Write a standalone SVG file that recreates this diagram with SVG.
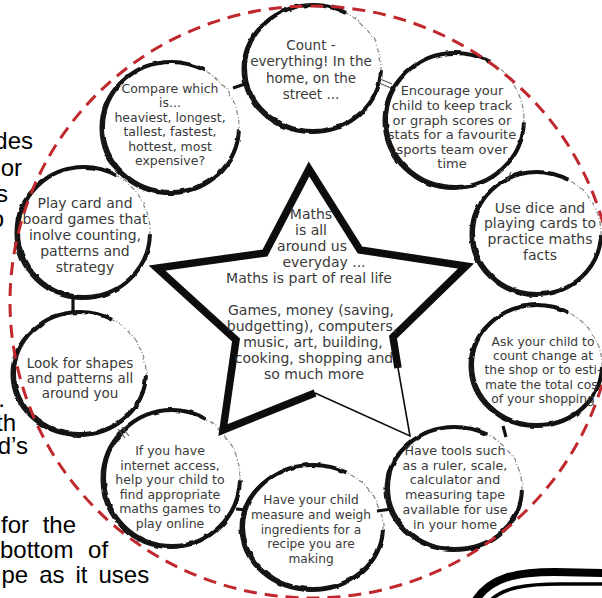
<svg xmlns="http://www.w3.org/2000/svg" width="602" height="598" viewBox="0 0 602 598">
  <defs>
    <style>
      .page { font-family: "Liberation Sans", Arial, sans-serif; font-size: 24px; fill: #000; }
      .disc { fill: #fff; }
      .faint { fill: none; stroke: #8c8c8c; stroke-width: 1.3; stroke-dasharray: 5 2 1 2; }
      .ink { fill: none; stroke: #121212; stroke-width: 4; stroke-dasharray: 298 62; stroke-dashoffset: -2; }
      .ink2 { fill: none; stroke: #121212; stroke-width: 2; stroke-dasharray: 286 74; stroke-dashoffset: -8; }
      .lbl { font-family: "DejaVu Sans", "Liberation Sans", sans-serif; fill: #3a3a3a; text-anchor: middle; }
      .bar { stroke: #111; stroke-width: 3.2; stroke-linecap: butt; fill: none; }
      .twin { stroke: #555; stroke-width: 1.1; fill: none; }
      .star-thick { fill: none; stroke: #0d0d0d; stroke-width: 7.5; stroke-linejoin: miter; stroke-miterlimit: 10; }
      .star-thin { fill: none; stroke: #0d0d0d; stroke-width: 1.6; }
      .boundary { fill: none; stroke: #c0282d; stroke-width: 3; stroke-dasharray: 13 8; }
    </style>
    <filter id="rough" x="-10%" y="-10%" width="120%" height="120%">
      <feTurbulence type="fractalNoise" baseFrequency="0.09" numOctaves="2" seed="4" result="n"/>
      <feDisplacementMap in="SourceGraphic" in2="n" scale="3" xChannelSelector="R" yChannelSelector="G"/>
    </filter>
  </defs>

  <!-- surrounding page text wrapped round the figure -->
  <g id="page-text" class="page">
    <text x="33" y="149" text-anchor="end">des</text>
    <text x="22" y="176" text-anchor="end">or</text>
    <text x="8" y="202" text-anchor="end">s</text>
    <text x="4" y="227" text-anchor="end">o</text>
    <text x="5" y="407" text-anchor="end">.</text>
    <text x="16" y="431" text-anchor="end">th</text>
    <text x="28" y="454" text-anchor="end">d’s</text>
    <text x="1" y="533" word-spacing="7">for the</text>
    <text x="0" y="558" word-spacing="8">bottom of</text>
    <text x="1.5" y="583" word-spacing="4.3">pe as it uses</text>
  </g>

  <!-- idea bubbles -->
  <g id="count" class="bubble">
    <ellipse class="disc" cx="313" cy="68" rx="68" ry="63"/>
    <g filter="url(#rough)">
      <ellipse class="faint" cx="313" cy="68" rx="68" ry="63"/>
      <ellipse class="ink" pathLength="360" cx="313" cy="68" rx="68" ry="63"/>
      <ellipse class="ink2" pathLength="360" cx="312" cy="69" rx="69.5" ry="64"/>
    </g>
    <text class="lbl" font-size="13.5"><tspan x="311" y="50">Count -</tspan><tspan x="311" y="66">everything! In the</tspan><tspan x="311" y="83">home, on the</tspan><tspan x="311" y="99">street ...</tspan></text>
  </g>

  <g id="encourage" class="bubble">
    <ellipse class="disc" cx="455" cy="120" rx="69" ry="67"/>
    <g filter="url(#rough)">
      <ellipse class="faint" cx="455" cy="120" rx="69" ry="67"/>
      <ellipse class="ink" pathLength="360" cx="455" cy="120" rx="69" ry="67"/>
      <ellipse class="ink2" pathLength="360" cx="454" cy="121" rx="70.5" ry="68"/>
    </g>
    <text class="lbl" font-size="13"><tspan x="452" y="95">Encourage your</tspan><tspan x="452" y="110">child to keep track</tspan><tspan x="452" y="125">or graph scores or</tspan><tspan x="452" y="139">stats for a favourite</tspan><tspan x="452" y="154">sports team over</tspan><tspan x="452" y="168">time</tspan></text>
  </g>

  <g id="compare" class="bubble">
    <ellipse class="disc" cx="171" cy="127" rx="68" ry="65"/>
    <g filter="url(#rough)">
      <ellipse class="faint" cx="171" cy="127" rx="68" ry="65"/>
      <ellipse class="ink" pathLength="360" cx="171" cy="127" rx="68" ry="65"/>
      <ellipse class="ink2" pathLength="360" cx="170" cy="128" rx="69.5" ry="66"/>
    </g>
    <text class="lbl" font-size="12.5"><tspan x="170" y="93">Compare which</tspan><tspan x="170" y="107">is...</tspan><tspan x="170" y="122">heaviest, longest,</tspan><tspan x="170" y="136">tallest, fastest,</tspan><tspan x="170" y="151">hottest, most</tspan><tspan x="170" y="165">expensive?</tspan></text>
  </g>

  <g id="play-cards" class="bubble">
    <ellipse class="disc" cx="84" cy="232" rx="66" ry="65"/>
    <g filter="url(#rough)">
      <ellipse class="faint" cx="84" cy="232" rx="66" ry="65"/>
      <ellipse class="ink" pathLength="360" cx="84" cy="232" rx="66" ry="65"/>
      <ellipse class="ink2" pathLength="360" cx="83" cy="233" rx="67.5" ry="66"/>
    </g>
    <text class="lbl" font-size="14"><tspan x="85" y="208">Play card and</tspan><tspan x="85" y="224">board games that</tspan><tspan x="85" y="240">inolve counting,</tspan><tspan x="85" y="256">patterns and</tspan><tspan x="85" y="272">strategy</tspan></text>
  </g>

  <g id="shapes" class="bubble">
    <ellipse class="disc" cx="80" cy="373" rx="66" ry="61"/>
    <g filter="url(#rough)">
      <ellipse class="faint" cx="80" cy="373" rx="66" ry="61"/>
      <ellipse class="ink" pathLength="360" cx="80" cy="373" rx="66" ry="61"/>
      <ellipse class="ink2" pathLength="360" cx="79" cy="374" rx="67.5" ry="62"/>
    </g>
    <text class="lbl" font-size="13.5"><tspan x="80" y="368">Look for shapes</tspan><tspan x="80" y="383">and patterns all</tspan><tspan x="80" y="398">around you</tspan></text>
  </g>

  <g id="online" class="bubble">
    <ellipse class="disc" cx="172" cy="478" rx="68" ry="68"/>
    <g filter="url(#rough)">
      <ellipse class="faint" cx="172" cy="478" rx="68" ry="68"/>
      <ellipse class="ink" pathLength="360" cx="172" cy="478" rx="68" ry="68"/>
      <ellipse class="ink2" pathLength="360" cx="171" cy="479" rx="69.5" ry="69"/>
    </g>
    <text class="lbl" font-size="12.5"><tspan x="170" y="455">If you have</tspan><tspan x="170" y="470">internet access,</tspan><tspan x="170" y="484">help your child to</tspan><tspan x="170" y="499">find appropriate</tspan><tspan x="170" y="513">maths games to</tspan><tspan x="170" y="528">play online</tspan></text>
  </g>

  <g id="recipe" class="bubble">
    <ellipse class="disc" cx="313" cy="527" rx="70" ry="62"/>
    <g filter="url(#rough)">
      <ellipse class="faint" cx="313" cy="527" rx="70" ry="62"/>
      <ellipse class="ink" pathLength="360" cx="313" cy="527" rx="70" ry="62"/>
      <ellipse class="ink2" pathLength="360" cx="312" cy="528" rx="71.5" ry="63"/>
    </g>
    <text class="lbl" font-size="12.2"><tspan x="311" y="504">Have your child</tspan><tspan x="311" y="519">measure and weigh</tspan><tspan x="311" y="534">ingredients for a</tspan><tspan x="311" y="548">recipe you are</tspan><tspan x="311" y="563">making</tspan></text>
  </g>

  <g id="tools" class="bubble">
    <ellipse class="disc" cx="455" cy="488" rx="67" ry="61"/>
    <g filter="url(#rough)">
      <ellipse class="faint" cx="455" cy="488" rx="67" ry="61"/>
      <ellipse class="ink" pathLength="360" cx="455" cy="488" rx="67" ry="61"/>
      <ellipse class="ink2" pathLength="360" cx="454" cy="489" rx="68.5" ry="62"/>
    </g>
    <text class="lbl" font-size="12.7"><tspan x="455" y="455">Have tools such</tspan><tspan x="455" y="470">as a ruler, scale,</tspan><tspan x="455" y="484">calculator and</tspan><tspan x="455" y="499">measuring tape</tspan><tspan x="455" y="514">available for use</tspan><tspan x="455" y="529">in your home</tspan></text>
  </g>

  <g id="change" class="bubble">
    <ellipse class="disc" cx="537" cy="365" rx="65" ry="60"/>
    <g filter="url(#rough)">
      <ellipse class="faint" cx="537" cy="365" rx="65" ry="60"/>
      <ellipse class="ink" pathLength="360" cx="537" cy="365" rx="65" ry="60"/>
      <ellipse class="ink2" pathLength="360" cx="536" cy="366" rx="66.5" ry="61"/>
    </g>
    <text class="lbl" font-size="12.3"><tspan x="543" y="346">Ask your child to</tspan><tspan x="543" y="360">count change at</tspan><tspan x="543" y="374">the shop or to esti-</tspan><tspan x="485" y="389" text-anchor="start">mate the total cos</tspan><tspan x="543" y="403">of your shopping</tspan></text>
  </g>

  <g id="dice" class="bubble">
    <ellipse class="disc" cx="537" cy="233" rx="64" ry="61"/>
    <g filter="url(#rough)">
      <ellipse class="faint" cx="537" cy="233" rx="64" ry="61"/>
      <ellipse class="ink" pathLength="360" cx="537" cy="233" rx="64" ry="61"/>
      <ellipse class="ink2" pathLength="360" cx="536" cy="234" rx="65.5" ry="62"/>
    </g>
    <text class="lbl" font-size="14"><tspan x="540" y="213">Use dice and</tspan><tspan x="540" y="228">playing cards to</tspan><tspan x="540" y="244">practice maths</tspan><tspan x="540" y="260">facts</tspan></text>
  </g>

  <!-- central star -->
  <g id="star">
    <polygon points="309,169 360,250 466,266 393,337 410,436 315,393 223,430 236,340 157,268 265,253" fill="#fff"/>
    <path class="star-thick" d="M398,368 L393,337 L466,266 L360,250 L309,169 L265,253 L157,268 L236,340 L223,430 L315,393"/>
    <path class="star-thin" d="M315,393 L410,436 L398,368"/>
    <text class="lbl" font-size="14"><tspan x="311" y="219">Maths</tspan><tspan x="311" y="235">is all</tspan><tspan x="312" y="251">around us</tspan><tspan x="324" y="267">everyday ...</tspan><tspan x="309" y="283">Maths is part of real life</tspan><tspan x="311" y="315">Games, money (saving,</tspan><tspan x="312" y="331">budgetting), computers,</tspan><tspan x="313" y="347">music, art, building,</tspan><tspan x="314" y="363">cooking, shopping and</tspan><tspan x="314" y="379">so much more</tspan></text>
  </g>

  <!-- links between neighbouring bubbles -->
  <g id="links">
    <line class="bar" x1="233" y1="88" x2="248" y2="83"/>
    <line class="twin" x1="380" y1="79" x2="392" y2="84"/>
    <line class="twin" x1="379" y1="83" x2="391" y2="88"/>
    <line class="twin" x1="507" y1="181" x2="511" y2="172"/>
    <line class="bar" x1="110" y1="162" x2="120" y2="172"/>
    <line class="bar" x1="73" y1="297" x2="73" y2="311"/>
    <line class="twin" x1="118" y1="429" x2="125" y2="438"/>
    <line class="twin" x1="122" y1="427" x2="129" y2="436"/>
    <line class="bar" x1="236" y1="509" x2="247" y2="510"/>
    <line class="bar" x1="377" y1="511" x2="392" y2="509"/>
    <line class="bar" x1="503" y1="426" x2="506" y2="437"/>
  </g>

  <!-- dashed boundary round the whole figure -->
  <ellipse id="boundary" class="boundary" cx="312" cy="302" rx="302" ry="296"/>

  <!-- corner of the next framed panel -->
  <g id="frame-corner" fill="none" stroke="#000">
    <path d="M476,600 C490,578 515,572 555,572 L606,573" stroke-width="8"/>
    <path d="M491,600 C503,588 525,584 560,584 L606,584" stroke-width="3.5"/>
  </g>
</svg>
